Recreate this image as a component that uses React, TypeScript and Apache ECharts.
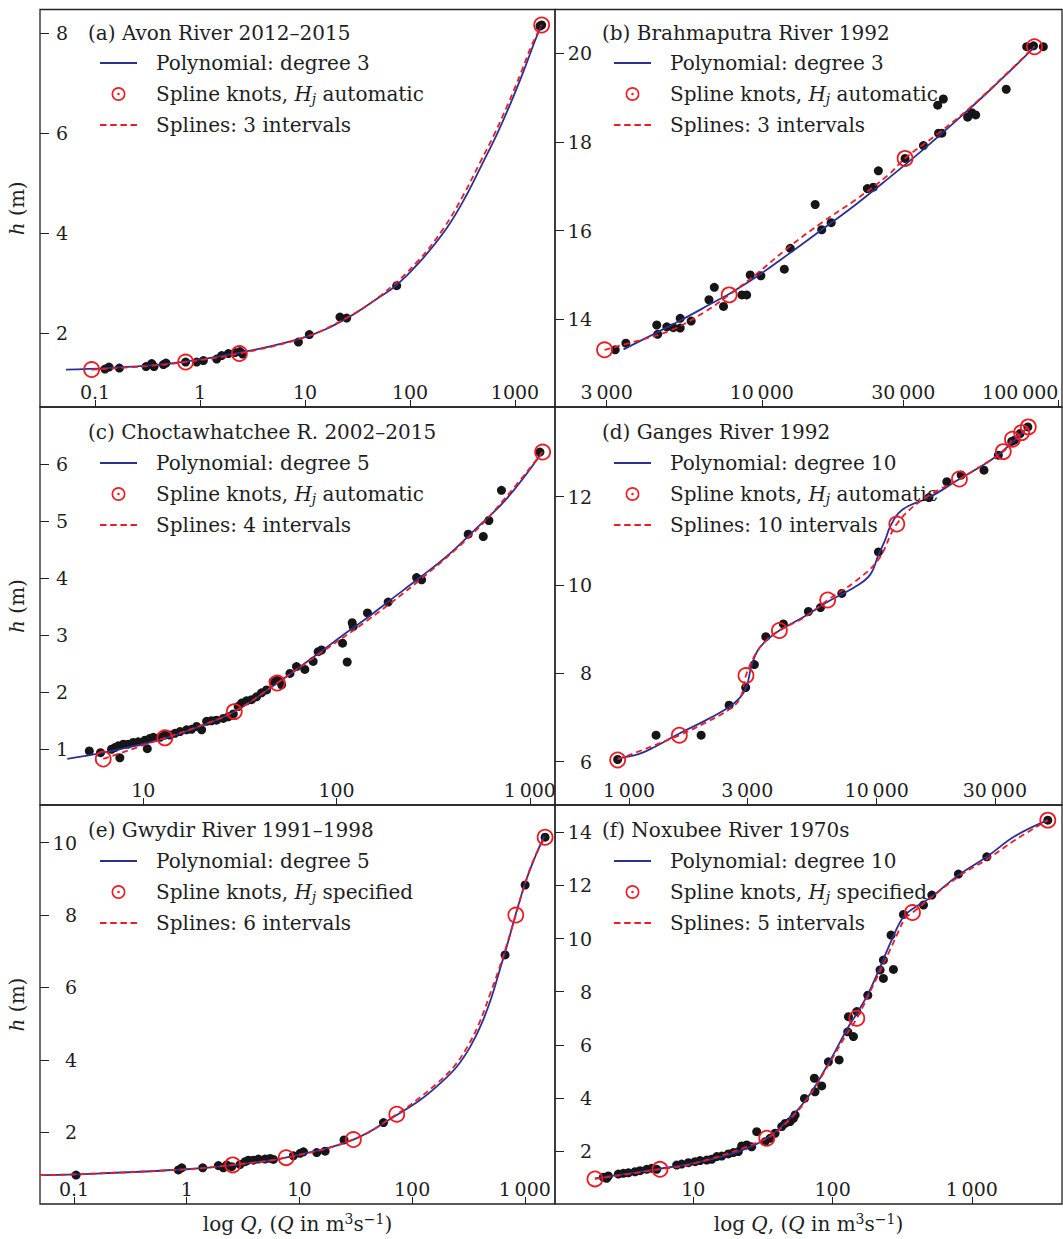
import React, { useEffect, useRef } from "react";
import * as echarts from "echarts";

// All x values are log10(Q), Q in m^3 s^-1; y values are stage h in m.

// (a) Avon River 2012–2015
const aDots = [[-0.905,1.28],[-0.867,1.32],[-0.768,1.30],[-0.514,1.33],[-0.460,1.39],[-0.438,1.33],[-0.349,1.37],[-0.324,1.40],[-0.137,1.42],[-0.032,1.42],[0.032,1.45],[0.159,1.48],[0.206,1.55],[0.270,1.59],[0.333,1.61],[0.381,1.63],[0.406,1.58],[0.937,1.82],[1.041,1.97],[1.333,2.32],[1.397,2.30],[1.873,2.95],[3.238,8.15],[3.254,8.17]];
const aPoly = [[-1.276,1.27],[-0.889,1.30],[-0.254,1.40],[0.381,1.61],[1.016,1.93],[1.40,2.30],[1.714,2.73],[1.867,2.95],[2.095,3.43],[2.349,4.10],[2.540,4.77],[2.698,5.43],[2.825,5.97],[2.952,6.57],[3.079,7.23],[3.175,7.77],[3.244,8.13]];
const aSpline = [[-1.032,1.27],[-0.5,1.34],[-0.137,1.42],[0.375,1.59],[1.0,1.92],[1.4,2.31],[1.714,2.74],[2.07,3.43],[2.32,4.10],[2.51,4.77],[2.67,5.43],[2.80,5.97],[2.93,6.57],[3.06,7.23],[3.16,7.77],[3.254,8.17]];
const aKnots = [[-1.032,1.27],[-0.137,1.42],[0.375,1.59],[3.254,8.17]];
const aXTicks = [0.1, 1, 10, 100, 1000];
const aXLabels = ["0.1", "1", "10", "100", "1000"];
const aYTicks = [2, 4, 6, 8];

// (b) Brahmaputra River 1992
const bDots = [[3.506,13.31],[3.542,13.46],[3.646,13.87],[3.649,13.66],[3.680,13.83],[3.702,13.81],[3.725,13.80],[3.725,14.02],[3.762,13.96],[3.822,14.44],[3.840,14.72],[3.871,14.29],[3.933,14.55],[3.949,14.55],[3.961,15.0],[3.997,14.98],[4.076,15.13],[4.096,15.60],[4.180,16.59],[4.202,16.02],[4.234,16.18],[4.356,16.95],[4.376,16.98],[4.393,17.35],[4.483,17.63],[4.545,17.92],[4.593,18.83],[4.612,18.97],[4.596,18.20],[4.607,18.20],[4.694,18.56],[4.708,18.66],[4.721,18.61],[4.824,19.19],[4.893,20.15],[4.916,20.17],[4.949,20.15]];
const bPoly = [[3.534,13.32],[3.640,13.68],[3.719,13.95],[3.843,14.40],[3.890,14.57],[3.978,14.94],[4.090,15.47],[4.202,16.02],[4.315,16.58],[4.427,17.18],[4.539,17.80],[4.652,18.46],[4.764,19.14],[4.921,20.15]];
const bSpline = [[3.470,13.31],[3.584,13.52],[3.697,13.76],[3.809,14.17],[3.890,14.55],[3.978,15.0],[4.090,15.62],[4.202,16.18],[4.315,16.69],[4.427,17.26],[4.483,17.63],[4.596,18.20],[4.708,18.81],[4.820,19.51],[4.919,20.15]];
const bKnots = [[3.470,13.31],[3.890,14.55],[4.483,17.63],[4.919,20.15]];
const bXTicks = [3000, 10000, 30000, 100000];
const bXLabels = ["3\u2009000", "10\u2009000", "30\u2009000", "100\u2009000"];
const bYTicks = [14, 16, 18, 20];

// (c) Choctawhatchee R. 2002–2015
const cDots = [[0.721,0.97],[0.779,0.94],[0.836,1.00],[0.853,1.03],[0.879,0.85],[0.871,1.06],[0.897,1.09],[0.922,1.09],[0.948,1.12],[0.974,1.13],[1.021,1.01],[1.009,1.16],[1.034,1.19],[1.052,1.21],[1.086,1.21],[1.112,1.25],[1.138,1.25],[1.164,1.28],[1.190,1.31],[1.224,1.34],[1.250,1.35],[1.276,1.40],[1.302,1.34],[1.328,1.49],[1.353,1.50],[1.379,1.51],[1.414,1.54],[1.440,1.57],[1.466,1.62],[1.491,1.75],[1.509,1.81],[1.534,1.85],[1.560,1.87],[1.586,1.92],[1.612,1.99],[1.638,2.04],[1.672,2.19],[1.698,2.22],[1.716,2.13],[1.759,2.33],[1.793,2.45],[1.836,2.40],[1.879,2.54],[1.905,2.71],[1.922,2.74],[2.031,2.86],[2.055,2.53],[2.081,3.22],[2.086,3.15],[2.160,3.39],[2.267,3.58],[2.414,4.01],[2.440,3.97],[2.681,4.77],[2.759,4.73],[2.788,5.01],[2.853,5.54],[3.052,6.21]];
const cPoly = [[0.607,0.83],[0.793,0.94],[0.983,1.08],[1.112,1.19],[1.293,1.40],[1.471,1.66],[1.693,2.16],[1.914,2.70],[2.017,2.96],[2.164,3.32],[2.276,3.61],[2.431,4.01],[2.569,4.38],[2.707,4.82],[2.879,5.39],[3.052,6.15]];
const cSpline = [[0.793,0.83],[1.112,1.20],[1.293,1.41],[1.471,1.66],[1.693,2.16],[1.914,2.68],[2.164,3.27],[2.431,3.97],[2.707,4.79],[2.879,5.43],[3.066,6.21]];
const cKnots = [[0.793,0.83],[1.112,1.20],[1.471,1.66],[1.693,2.16],[3.066,6.21]];
const cXTicks = [10, 100, 1000];
const cXLabels = ["10", "100", "1\u2009000"];
const cYTicks = [1, 2, 3, 4, 5, 6];

// (d) Ganges River 1992
const dDots = [[2.954,6.05],[3.109,6.60],[3.291,6.60],[3.404,7.28],[3.471,7.68],[3.506,8.20],[3.552,8.83],[3.623,9.12],[3.724,9.40],[3.773,9.49],[3.859,9.81],[4.007,10.75],[4.211,11.98],[4.283,12.34],[4.341,12.49],[4.433,12.60],[4.491,12.94],[4.545,13.25],[4.556,13.28],[4.579,13.43],[4.610,13.58]];
const dPoly = [[2.954,6.08],[3.038,6.17],[3.105,6.34],[3.203,6.64],[3.307,6.93],[3.401,7.23],[3.448,7.45],[3.475,7.71],[3.495,8.19],[3.522,8.54],[3.563,8.79],[3.607,8.97],[3.711,9.30],[3.802,9.62],[3.913,9.96],[3.973,10.23],[4.007,10.68],[4.034,11.02],[4.054,11.32],[4.087,11.62],[4.128,11.79],[4.211,11.98],[4.334,12.40],[4.451,12.79],[4.511,13.04],[4.612,13.58]];
const dSpline = [[2.954,6.05],[3.203,6.60],[3.307,6.88],[3.401,7.17],[3.448,7.43],[3.472,7.95],[3.509,8.42],[3.549,8.72],[3.607,8.97],[3.711,9.28],[3.802,9.66],[3.913,10.08],[4.007,10.58],[4.081,11.38],[4.182,11.92],[4.334,12.40],[4.437,12.75],[4.511,13.02],[4.548,13.30],[4.585,13.45],[4.612,13.58]];
const dKnots = [[2.954,6.04],[3.203,6.60],[3.472,7.95],[3.607,8.97],[3.802,9.66],[4.081,11.38],[4.334,12.40],[4.511,13.02],[4.548,13.30],[4.585,13.45],[4.612,13.58]];
const dXTicks = [1000, 3000, 10000, 30000];
const dXLabels = ["1\u2009000", "3\u2009000", "10\u2009000", "30\u2009000"];
const dYTicks = [6, 8, 10, 12];

// (e) Gwydir River 1991–1998
const eDots = [[-0.982,0.82],[-0.074,0.96],[-0.044,1.02],[0.142,1.02],[0.281,1.08],[0.325,1.02],[0.355,1.10],[0.399,1.05],[0.473,1.11],[0.518,1.19],[0.547,1.23],[0.592,1.23],[0.636,1.26],[0.695,1.26],[0.740,1.28],[0.769,1.25],[0.947,1.35],[1.006,1.42],[1.036,1.46],[1.154,1.44],[1.228,1.48],[1.396,1.79],[1.746,2.27],[2.825,6.90],[3.003,8.83],[3.180,10.15]];
const ePoly = [[-1.302,0.82],[-0.982,0.84],[0,0.98],[0.414,1.10],[0.888,1.31],[1.479,1.80],[1.864,2.48],[2.071,2.89],[2.249,3.35],[2.396,3.81],[2.515,4.36],[2.618,5.01],[2.707,5.75],[2.781,6.52],[2.840,7.13],[2.914,7.96],[3.003,8.88],[3.092,9.61],[3.172,10.17]];
const eSpline = [[-1.302,0.82],[-0.982,0.84],[0,0.98],[0.408,1.10],[0.882,1.30],[1.479,1.80],[1.864,2.50],[2.04,2.89],[2.22,3.35],[2.37,3.81],[2.49,4.36],[2.595,5.01],[2.69,5.80],[2.77,6.50],[2.835,7.13],[2.920,8.0],[3.003,8.88],[3.09,9.61],[3.18,10.15]];
const eKnots = [[0.408,1.10],[0.882,1.30],[1.479,1.80],[1.864,2.50],[2.920,8.0],[3.180,10.15]];
const eXTicks = [0.1, 1, 10, 100, 1000];
const eXLabels = ["0.1", "1", "10", "100", "1\u2009000"];
const eYTicks = [2, 4, 6, 8, 10];

// (f) Noxubee River 1970s
const fDots = [[0.377,0.97],[0.353,1.01],[0.389,1.06],[0.461,1.13],[0.497,1.16],[0.533,1.18],[0.581,1.22],[0.617,1.26],[0.665,1.31],[0.701,1.35],[0.737,1.31],[0.880,1.47],[0.916,1.51],[0.964,1.56],[1.012,1.60],[1.048,1.64],[1.096,1.66],[1.132,1.69],[1.168,1.79],[1.204,1.81],[1.251,1.89],[1.287,1.94],[1.323,1.98],[1.347,2.19],[1.383,2.23],[1.419,2.16],[1.455,2.73],[1.515,2.35],[1.551,2.48],[1.587,2.67],[1.635,2.92],[1.659,3.04],[1.695,3.11],[1.719,3.23],[1.731,3.36],[1.798,3.98],[1.874,4.23],[1.869,4.74],[1.922,4.45],[1.970,5.36],[2.047,5.43],[2.109,6.49],[2.150,6.31],[2.114,7.06],[2.174,7.25],[2.253,7.87],[2.341,8.82],[2.365,8.50],[2.365,9.19],[2.437,8.84],[2.420,10.13],[2.509,10.91],[2.653,11.26],[2.713,11.64],[2.904,12.43],[3.108,13.08],[3.546,14.46]];
const fPoly = [[0.293,0.97],[0.725,1.31],[1.0,1.54],[1.323,1.98],[1.527,2.48],[1.683,3.18],[1.826,4.05],[1.970,5.30],[2.114,6.68],[2.174,7.18],[2.257,7.94],[2.353,9.07],[2.425,9.95],[2.509,10.82],[2.593,11.18],[2.713,11.58],[2.904,12.39],[3.108,13.08],[3.311,13.86],[3.546,14.46]];
const fSpline = [[0.293,0.95],[0.760,1.31],[1.012,1.54],[1.527,2.48],[1.683,3.14],[1.826,4.02],[1.970,5.24],[2.090,6.31],[2.174,7.0],[2.305,8.38],[2.401,9.44],[2.473,10.26],[2.521,10.76],[2.574,10.98],[2.904,12.33],[3.120,13.02],[3.311,13.71],[3.546,14.46]];
const fKnots = [[0.293,0.95],[0.760,1.31],[1.527,2.48],[2.174,7.0],[2.574,10.98],[3.546,14.46]];
const fXTicks = [10, 100, 1000];
const fXLabels = ["10", "100", "1\u2009000"];
const fYTicks = [2, 4, 6, 8, 10, 12, 14];

const FONT = '"DejaVu Serif", "Liberation Serif", serif';
const BLUE = "#2b3194";
const RED = "#ec1c24";
const DOT = "#161616";
const TXT = "#1e1e1e";
const KNOT_ICON =
  "path://M0,10 A10,10 0 1,1 20,10 A10,10 0 1,1 0,10 Z M2.4,10 A7.6,7.6 0 1,0 17.6,10 A7.6,7.6 0 1,0 2.4,10 Z M8.2,10 A1.8,1.8 0 1,1 11.8,10 A1.8,1.8 0 1,1 8.2,10 Z";
const SOLID_ICON = "path://M0,0 L37,0 L37,1.8 L0,1.8 Z";
const DASH_ICON =
  "path://M0,0 L6.5,0 L6.5,1.8 L0,1.8 Z M10.2,0 L16.7,0 L16.7,1.8 L10.2,1.8 Z M20.4,0 L26.9,0 L26.9,1.8 L20.4,1.8 Z M30.5,0 L37,0 L37,1.8 L30.5,1.8 Z";

const panels = [
  { title: "(a) Avon River 2012–2015", poly: "Polynomial: degree 3", knots: "Spline knots, Hj automatic", spline: "Splines: 3 intervals",
    dots: aDots, polyData: aPoly, splineData: aSpline, knotData: aKnots, xTicks: aXTicks, xLabels: aXLabels, yTicks: aYTicks,
    xMin: -1.524, xMax: 3.381, yMin: 0.52, yMax: 8.48, box: [40, 9.5, 515, 397.5], yMargin: 28, col: 0, row: 0, alignMax: false },
  { title: "(b) Brahmaputra River 1992", poly: "Polynomial: degree 3", knots: "Spline knots, Hj automatic", spline: "Splines: 3 intervals",
    dots: bDots, polyData: bPoly, splineData: bSpline, knotData: bKnots, xTicks: bXTicks, xLabels: bXLabels, yTicks: bYTicks,
    xMin: 3.303, xMax: 5.012, yMin: 12.02, yMax: 20.99, box: [555, 9.5, 507, 397.5], yMargin: 37, col: 1, row: 0, alignMax: true },
  { title: "(c) Choctawhatchee R. 2002–2015", poly: "Polynomial: degree 5", knots: "Spline knots, Hj automatic", spline: "Splines: 4 intervals",
    dots: cDots, polyData: cPoly, splineData: cSpline, knotData: cKnots, xTicks: cXTicks, xLabels: cXLabels, yTicks: cYTicks,
    xMin: 0.466, xMax: 3.130, yMin: 0.023, yMax: 7.0, box: [40, 407, 515, 398], yMargin: 28, col: 0, row: 1, alignMax: false },
  { title: "(d) Ganges River 1992", poly: "Polynomial: degree 10", knots: "Spline knots, Hj automatic", spline: "Splines: 10 intervals",
    dots: dDots, polyData: dPoly, splineData: dSpline, knotData: dKnots, xTicks: dXTicks, xLabels: dXLabels, yTicks: dYTicks,
    xMin: 2.701, xMax: 4.748, yMin: 5.02, yMax: 14.03, box: [555, 407, 507, 398], yMargin: 37, col: 1, row: 1, alignMax: false },
  { title: "(e) Gwydir River 1991–1998", poly: "Polynomial: degree 5", knots: "Spline knots, Hj specified", spline: "Splines: 6 intervals",
    dots: eDots, polyData: ePoly, splineData: eSpline, knotData: eKnots, xTicks: eXTicks, xLabels: eXLabels, yTicks: eYTicks,
    xMin: -1.302, xMax: 3.268, yMin: 0.02, yMax: 11.04, box: [40, 805, 515, 399], yMargin: 37, col: 0, row: 2, alignMax: false },
  { title: "(f) Noxubee River 1970s", poly: "Polynomial: degree 10", knots: "Spline knots, Hj specified", spline: "Splines: 5 intervals",
    dots: fDots, polyData: fPoly, splineData: fSpline, knotData: fKnots, xTicks: fXTicks, xLabels: fXLabels, yTicks: fYTicks,
    xMin: 0.006, xMax: 3.648, yMin: 0.005, yMax: 15.03, box: [555, 805, 507, 399], yMargin: 37, col: 1, row: 2, alignMax: false },
];

const titleTops = [21, 420, 818];
const legendTops = [51, 451, 849];

function buildOption() {
  const baseText = { fontFamily: FONT, color: TXT };
  const option: any = {
    animation: false,
    backgroundColor: "#ffffff",
    textStyle: { fontFamily: FONT },
    title: panels.map((p) => ({
      text: p.title,
      left: p.col === 0 ? 88 : 602,
      top: titleTops[p.row],
      padding: 0,
      textStyle: { ...baseText, fontSize: 20, fontWeight: "normal", lineHeight: 24 },
    })),
    legend: panels.map((p) => ({
      orient: "vertical",
      left: p.col === 0 ? 100 : 614,
      top: legendTops[p.row],
      padding: 0,
      itemWidth: 37,
      itemHeight: 14,
      itemGap: 7,
      selectedMode: false,
      symbolKeepAspect: true,
      data: [
        { name: p.poly, icon: SOLID_ICON, itemStyle: { color: BLUE, borderWidth: 0, opacity: 1 } },
        { name: p.knots, icon: KNOT_ICON, itemStyle: { color: RED, borderWidth: 0, opacity: 1 } },
        { name: p.spline, icon: DASH_ICON, itemStyle: { color: RED, borderWidth: 0, opacity: 1 } },
      ],
      formatter: (n: string) => n.replace("Hj", "{it|H}{sub|j}"),
      textStyle: {
        ...baseText,
        fontSize: 20,
        lineHeight: 24,
        padding: [0, 0, 0, 14],
        rich: {
          it: { fontFamily: FONT, fontStyle: "italic", fontSize: 20, lineHeight: 24, color: TXT },
          sub: { fontFamily: FONT, fontStyle: "italic", fontSize: 14, lineHeight: 14, verticalAlign: "bottom", color: TXT },
        },
      },
    })),
    grid: panels.map((p) => ({
      left: p.box[0],
      top: p.box[1],
      width: p.box[2],
      height: p.box[3],
      show: true,
      borderColor: "#222",
      borderWidth: 1.3,
      backgroundColor: "transparent",
      containLabel: false,
      outerBoundsMode: "none",
    })),
    xAxis: panels.map((p, i) => {
      const vals = p.xTicks.map((t) => Math.log10(t));
      const ax: any = {
        type: "value",
        gridIndex: i,
        position: "bottom",
        min: p.xMin,
        max: p.xMax,
        splitLine: { show: false },
        axisLine: { show: false, onZero: false },
        axisTick: { show: true, inside: true, length: 7, customValues: vals, lineStyle: { color: "#222", width: 1 } },
        axisLabel: {
          show: true,
          inside: true,
          margin: 6,
          customValues: vals,
          fontFamily: FONT,
          fontSize: 19,
          color: TXT,
          formatter: (v: number) => {
            let best = 0;
            vals.forEach((t, k) => { if (Math.abs(t - v) < Math.abs(vals[best] - v)) best = k; });
            return p.xLabels[best];
          },
        },
      };
      if (p.alignMax) ax.axisLabel.alignMaxLabel = "right";
      if (p.row === 2) {
        ax.name = "log {it|Q}, ({it|Q} in m{sup|3}s{sup|\u22121})";
        ax.nameLocation = "middle";
        ax.nameGap = 8;
        ax.nameMoveOverlap = false;
        ax.nameTextStyle = {
          fontFamily: FONT, fontSize: 20, color: TXT, lineHeight: 24,
          rich: {
            it: { fontFamily: FONT, fontStyle: "italic", fontSize: 20, lineHeight: 24, color: TXT },
            sup: { fontFamily: FONT, fontSize: 14, lineHeight: 14, verticalAlign: "top", color: TXT },
          },
        };
      }
      return ax;
    }),
    yAxis: panels.map((p, i) => {
      const ax: any = {
        type: "value",
        gridIndex: i,
        position: "left",
        min: p.yMin,
        max: p.yMax,
        splitLine: { show: false },
        axisLine: { show: false, onZero: false },
        axisTick: { show: true, inside: true, length: 9, customValues: p.yTicks, lineStyle: { color: "#222", width: 1 } },
        axisLabel: {
          show: true,
          inside: true,
          align: "right",
          margin: p.yMargin,
          customValues: p.yTicks,
          fontFamily: FONT,
          fontSize: 19,
          color: TXT,
          formatter: (v: number) => String(Math.round(v)),
        },
      };
      if (p.col === 0) {
        ax.name = "{it|h} (m)";
        ax.nameLocation = "middle";
        ax.nameGap = 11;
        ax.nameRotate = 90;
        ax.nameMoveOverlap = false;
        ax.nameTextStyle = {
          fontFamily: FONT, fontSize: 20, color: TXT, lineHeight: 24,
          rich: { it: { fontFamily: FONT, fontStyle: "italic", fontSize: 20, lineHeight: 24, color: TXT } },
        };
      }
      return ax;
    }),
    series: [] as any[],
  };

  panels.forEach((p, i) => {
    option.series.push(
      {
        type: "scatter",
        name: "Observed " + p.title.slice(0, 3),
        xAxisIndex: i,
        yAxisIndex: i,
        data: p.dots,
        symbol: "circle",
        symbolSize: 9,
        itemStyle: { color: DOT, opacity: 1 },
        z: 2,
      },
      {
        type: "line",
        name: p.poly,
        xAxisIndex: i,
        yAxisIndex: i,
        data: p.polyData,
        symbol: "none",
        smooth: 0.4,
        lineStyle: { color: BLUE, width: 1.8 },
        itemStyle: { color: BLUE },
        z: 3,
      },
      {
        type: "line",
        name: p.spline,
        xAxisIndex: i,
        yAxisIndex: i,
        data: p.splineData,
        symbol: "none",
        smooth: 0.4,
        lineStyle: { color: RED, width: 1.8, type: [6, 4] },
        itemStyle: { color: RED },
        z: 4,
      },
      {
        type: "scatter",
        name: p.knots,
        xAxisIndex: i,
        yAxisIndex: i,
        data: p.knotData,
        symbol: "circle",
        symbolSize: 15,
        itemStyle: { color: "rgba(0,0,0,0)", borderColor: RED, borderWidth: 1.8, opacity: 1 },
        z: 5,
      }
    );
  });
  return option;
}

export default function App() {
  const ref = useRef<HTMLDivElement>(null);
  useEffect(() => {
    if (!ref.current) return;
    const chart = echarts.init(ref.current, null, { renderer: "svg" });
    chart.setOption(buildOption());
    return () => chart.dispose();
  }, []);
  return (
    <div
      ref={ref}
      style={{ position: "absolute", left: 0, top: 0, width: 1063, height: 1239, background: "#fff" }}
    />
  );
}
